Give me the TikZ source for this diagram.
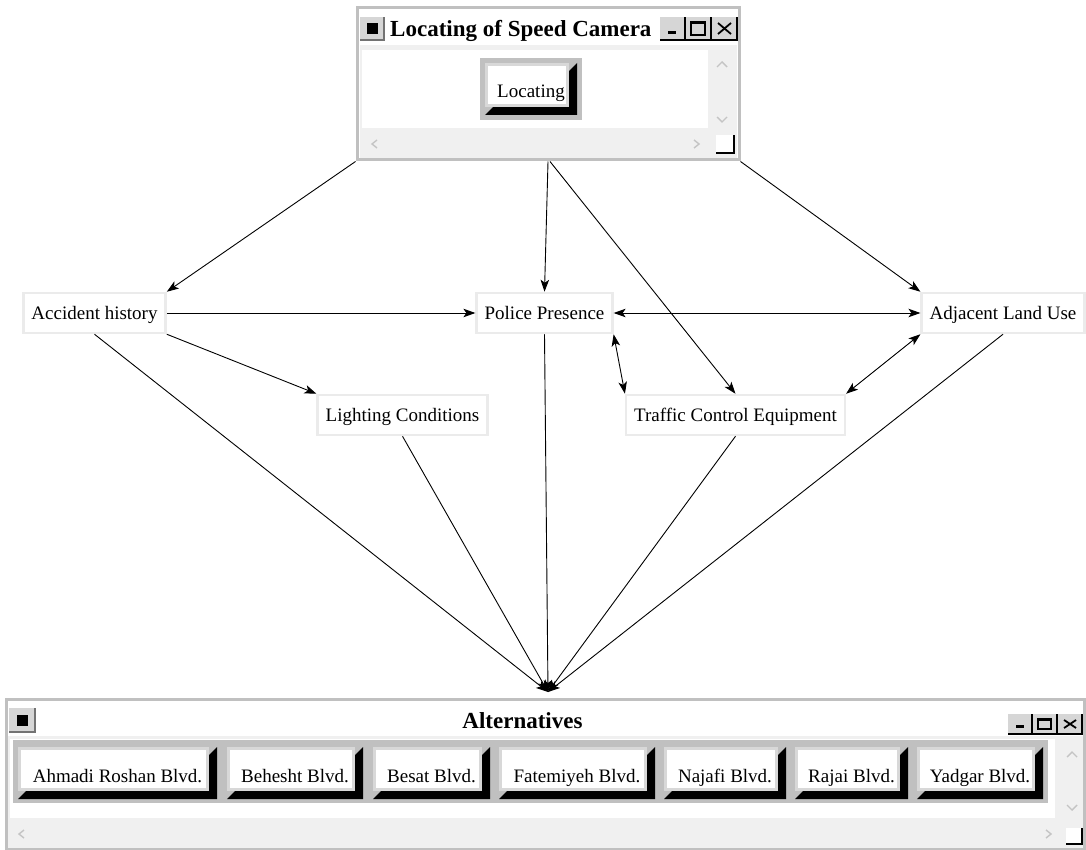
\documentclass[tikz,border=0pt]{standalone}
\usepackage{fontspec}
\setmainfont{Liberation Serif}
\usetikzlibrary{arrows.meta,calc}

\definecolor{winborder}{HTML}{C0C0C0}
\definecolor{panel}{HTML}{F0F0F0}
\definecolor{nodeborder}{HTML}{EBEBEB}
\definecolor{btnrim}{HTML}{D8D8D8}
\definecolor{chev}{HTML}{C4C4C4}
\definecolor{tbface}{HTML}{D6D6D6}

% 3D push button: name, x1, y1, x2, y2, text
\newcommand\bevelbtn[6]{%
  \fill[black] ({#4},{#3}) -- ({#4},{#5}) -- ({#2},{#5}) -- ({#2+8},{#5-8}) -- ({#4-8},{#5-8}) -- ({#4-8},{#3+8}) -- cycle;
  \path[fill=white, draw=btnrim, line width=3pt] ({#2+1.5},{#3+1.5}) rectangle ({#4-9.5},{#5-9.5});
  \node[btntext] (#1) at ({(#2+#4)/2},{#5-17}) {#6};
}
% title bar buttons: x1, y1, x2, y2
\newcommand\tbframe[4]{%
  \fill[tbface] ({#1},{#2}) rectangle ({#3},{#4});
  \draw[black, line width=1.3pt] ({#1},{#4}) -- ({#3},{#4}) -- ({#3},{#2});
}
\newcommand\tbmin[4]{\tbframe{#1}{#2}{#3}{#4}%
  \fill[black] ({#1+8},{#4-9}) rectangle ({#1+16},{#4-6});}
\newcommand\tbmax[4]{\tbframe{#1}{#2}{#3}{#4}%
  \draw[black, line width=1.2pt] ({#1+5},{#2+5}) rectangle ({#3-6},{#4-5});
  \draw[black, line width=2.2pt] ({#1+5},{#2+5.8}) -- ({#3-6},{#2+5.8});}
\newcommand\tbclose[4]{\tbframe{#1}{#2}{#3}{#4}%
  \draw[black, line width=1.8pt] ({#1+6},{#2+6}) -- ({#3-6},{#4-6}) ({#1+6},{#4-6}) -- ({#3-6},{#2+6});}
\newcommand\sysmenu[4]{%
  \fill[tbface] ({#1},{#2}) rectangle ({#3},{#4});
  \draw[black!55, line width=1.3pt] ({#1},{#4}) -- ({#3},{#4}) -- ({#3},{#2});
  \fill[black] ({(#1+#3)/2-5.5},{(#2+#4)/2-5.5}) rectangle ({(#1+#3)/2+5.5},{(#2+#4)/2+5.5});}
% size grip: x1 y1 x2 y2
\newcommand\sizegrip[4]{%
  \fill[white] ({#1},{#2}) rectangle ({#3},{#4});
  \draw[black, line width=1.3pt] ({#1},{#4}) -- ({#3},{#4}) -- ({#3},{#2});}

\begin{document}
\begin{tikzpicture}[x=1pt,y=-1pt,
  crit/.style={draw=nodeborder, line width=2.5pt, fill=white,
    font=\fontsize{19}{23}\selectfont, inner xsep=8pt, inner ysep=0pt,
    minimum height=40pt, text height=12.6pt, text depth=0pt},
  win/.style={draw=winborder, line width=3pt, fill=white, inner sep=0pt},
  wintitle/.style={font=\bfseries\fontsize{23}{27}\selectfont, inner sep=0pt},
  btntext/.style={font=\fontsize{19}{23}\selectfont, inner sep=0pt, anchor=base},
  chevron/.style={draw=chev, line width=1.4pt},
  arr/.style={line width=0.9pt, -{Stealth[length=12pt,width=8.5pt,inset=3pt]}},
  dbl/.style={line width=0.9pt, {Stealth[length=12pt,width=8.5pt,inset=3pt]}-{Stealth[length=12pt,width=8.5pt,inset=3pt]}}
]
\useasboundingbox (0,0) rectangle (1086,850);
\fill[white] (0,0) rectangle (1086,850);

% ---------------- top window ----------------
\node[win, minimum width=382pt, minimum height=152pt] (topwin) at (548,84) {};
\fill[panel] (359.5,45) rectangle (736.5,158.5);
\fill[white] (362,50) rectangle (708,128);
\sysmenu{360}{17}{384}{40}
\node[wintitle, anchor=base west] (toptitle) at (390,37) {Locating of Speed Camera};
\tbmin{660}{17}{685}{40}
\tbmax{686}{17}{711}{40}
\tbclose{712}{17}{737}{40}
\fill[winborder] (480,58) rectangle (582,120);
\bevelbtn{locbtn}{485}{63}{577}{115}{Locating}
\draw[chevron] (717,67) -- (722,62) -- (727,67);
\draw[chevron] (717,117) -- (722,122) -- (727,117);
\draw[chevron] (377,140) -- (372,144) -- (377,148);
\draw[chevron] (694,140) -- (699,144) -- (694,148);
\sizegrip{716}{135}{734}{153}

% ---------------- bottom window ----------------
\node[win, minimum width=1078pt, minimum height=149pt] (altwin) at (545,774) {};
\fill[panel] (8,736) rectangle (1082.5,848);
\fill[white] (10,739) rectangle (1055,818);
\fill[winborder] (13,740) rectangle (1048,803);
\sysmenu{9}{708}{35}{732}
\node[wintitle, anchor=base] (alttitle) at (522.5,728) {Alternatives};
\tbmin{1008}{714}{1032}{734}
\tbmax{1033}{714}{1057}{734}
\tbclose{1058}{714}{1082}{734}
\bevelbtn{b1}{18}{747}{217}{799}{Ahmadi Roshan Blvd.}
\bevelbtn{b2}{227}{747}{363}{799}{Behesht Blvd.}
\bevelbtn{b3}{373}{747}{490}{799}{Besat Blvd.}
\bevelbtn{b4}{499}{747}{655}{799}{Fatemiyeh Blvd.}
\bevelbtn{b5}{664}{747}{786}{799}{Najafi Blvd.}
\bevelbtn{b6}{795}{747}{908}{799}{Rajai Blvd.}
\bevelbtn{b7}{917}{747}{1043}{799}{Yadgar Blvd.}
\draw[chevron] (1067,757) -- (1072,752) -- (1077,757);
\draw[chevron] (1067,805) -- (1072,810) -- (1077,805);
\draw[chevron] (24,830) -- (19,834) -- (24,838);
\draw[chevron] (1046,830) -- (1051,834) -- (1046,838);
\sizegrip{1066}{828}{1082}{844}

% ---------------- criteria ----------------
\node[crit] (ah) at (94.5,313) {Accident history};
\node[crit] (pp) at (544.5,313) {Police Presence};
\node[crit] (al) at (1003,313) {Adjacent Land Use};
\node[crit] (tc) at (735.5,415) {Traffic Control Equipment};
\node[crit] (lc) at (402.5,415) {Lighting Conditions};

\coordinate (conv) at (548,692);

% ---------------- connectors ----------------
\draw[arr] (topwin.south west) -- (ah.north east);
\draw[arr] (topwin.south) -- (pp.north);
\draw[arr] ($(topwin.south)+(2,0)$) -- (tc.north);
\draw[arr] (topwin.south east) -- (al.north west);
\draw[arr] (ah.east) -- (pp.west);
\draw[arr] (ah.south east) -- (lc.north west);
\draw[dbl] (pp.east) -- (al.west);
\draw[dbl] (pp.south east) -- (tc.north west);
\draw[dbl] (al.south west) -- (tc.north east);
\draw[arr] (ah.south) -- (conv);
\draw[arr] (lc.south) -- (conv);
\draw[arr] (pp.south) -- (conv);
\draw[arr] (tc.south) -- (conv);
\draw[arr] (al.south) -- (conv);
\end{tikzpicture}
\end{document}
